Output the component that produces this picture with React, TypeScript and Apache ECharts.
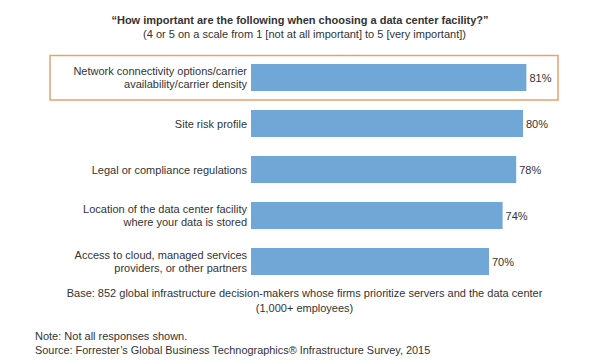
import React, { useEffect, useRef } from "react";
import * as echarts from "echarts";

const categories = [
  "Network connectivity options/carrier\navailability/carrier density",
  "Site risk profile",
  "Legal or compliance regulations",
  "Location of the data center facility\nwhere your data is stored",
  "Access to cloud, managed services\nproviders, or other partners",
];
const values = [81, 80, 78, 74, 70];

const titleText = "\u201CHow important are the following when choosing a data center facility?\u201D";
const subtitleText = "(4 or 5 on a scale from 1 [not at all important] to 5 [very important])";
const baseLines = [
  "Base: 852 global infrastructure decision-makers whose firms prioritize servers and the data center",
  "(1,000+ employees)",
];
const noteText = "Note: Not all responses shown.";
const sourceText = "Source: Forrester\u2019s Global Business Technographics\u00AE Infrastructure Survey, 2015";

const FONT = "'Liberation Sans', Arial, Helvetica, sans-serif";
const TEXT = "#333333";

export default function App() {
  const ref = useRef<HTMLDivElement>(null);
  useEffect(() => {
    if (!ref.current) return;
    const chart = echarts.init(ref.current, undefined, { renderer: "svg" });
    chart.setOption({
      animation: false,
      backgroundColor: "#ffffff",
      textStyle: { fontFamily: FONT },
      grid: { left: 251, width: 340, top: 54.5, height: 230, containLabel: false },
      xAxis: { type: "value", min: 0, max: 100, show: false },
      yAxis: {
        type: "category",
        data: categories,
        inverse: true,
        axisLine: { show: false },
        axisTick: { show: false },
        splitLine: { show: false },
        axisLabel: {
          margin: 4,
          color: TEXT,
          fontSize: 11,
          lineHeight: 13,
          fontFamily: FONT,
          align: "right",
        },
      },
      series: [
        {
          type: "bar",
          data: values,
          barWidth: 27,
          itemStyle: { color: "#70a7d6" },
          label: {
            show: true,
            position: "right",
            distance: 3,
            formatter: "{c}%",
            color: TEXT,
            fontSize: 11,
            fontFamily: FONT,
          },
        },
      ],
      graphic: [
        {
          type: "rect",
          shape: { x: 50, y: 55.5, width: 508, height: 44.5 },
          style: { fill: "none", stroke: "#e2a36e", lineWidth: 1.5 },
          z: 10,
        },
        {
          type: "text",
          x: 300,
          y: 20,
          style: {
            text: titleText,
            fontSize: 11,
            fontWeight: "bold",
            fill: TEXT,
            fontFamily: FONT,
            textAlign: "center",
            textVerticalAlign: "middle",
          },
        },
        {
          type: "text",
          x: 304.5,
          y: 33.5,
          style: {
            text: subtitleText,
            fontSize: 11,
            fill: TEXT,
            fontFamily: FONT,
            textAlign: "center",
            textVerticalAlign: "middle",
          },
        },
        {
          type: "text",
          x: 304.5,
          y: 293,
          style: {
            text: baseLines[0],
            fontSize: 11,
            fill: TEXT,
            fontFamily: FONT,
            textAlign: "center",
            textVerticalAlign: "middle",
          },
        },
        {
          type: "text",
          x: 304.5,
          y: 308,
          style: {
            text: baseLines[1],
            fontSize: 11,
            fill: TEXT,
            fontFamily: FONT,
            textAlign: "center",
            textVerticalAlign: "middle",
          },
        },
        {
          type: "text",
          x: 35,
          y: 336,
          style: {
            text: noteText,
            fontSize: 11,
            fill: TEXT,
            fontFamily: FONT,
            textAlign: "left",
            textVerticalAlign: "middle",
          },
        },
        {
          type: "text",
          x: 35,
          y: 350,
          style: {
            text: sourceText,
            fontSize: 10.9,
            fill: TEXT,
            fontFamily: FONT,
            textAlign: "left",
            textVerticalAlign: "middle",
          },
        },
      ],
    });
    return () => chart.dispose();
  }, []);
  return (
    <div
      ref={ref}
      style={{ position: "fixed", left: 0, top: 0, width: 600, height: 360 }}
    />
  );
}
